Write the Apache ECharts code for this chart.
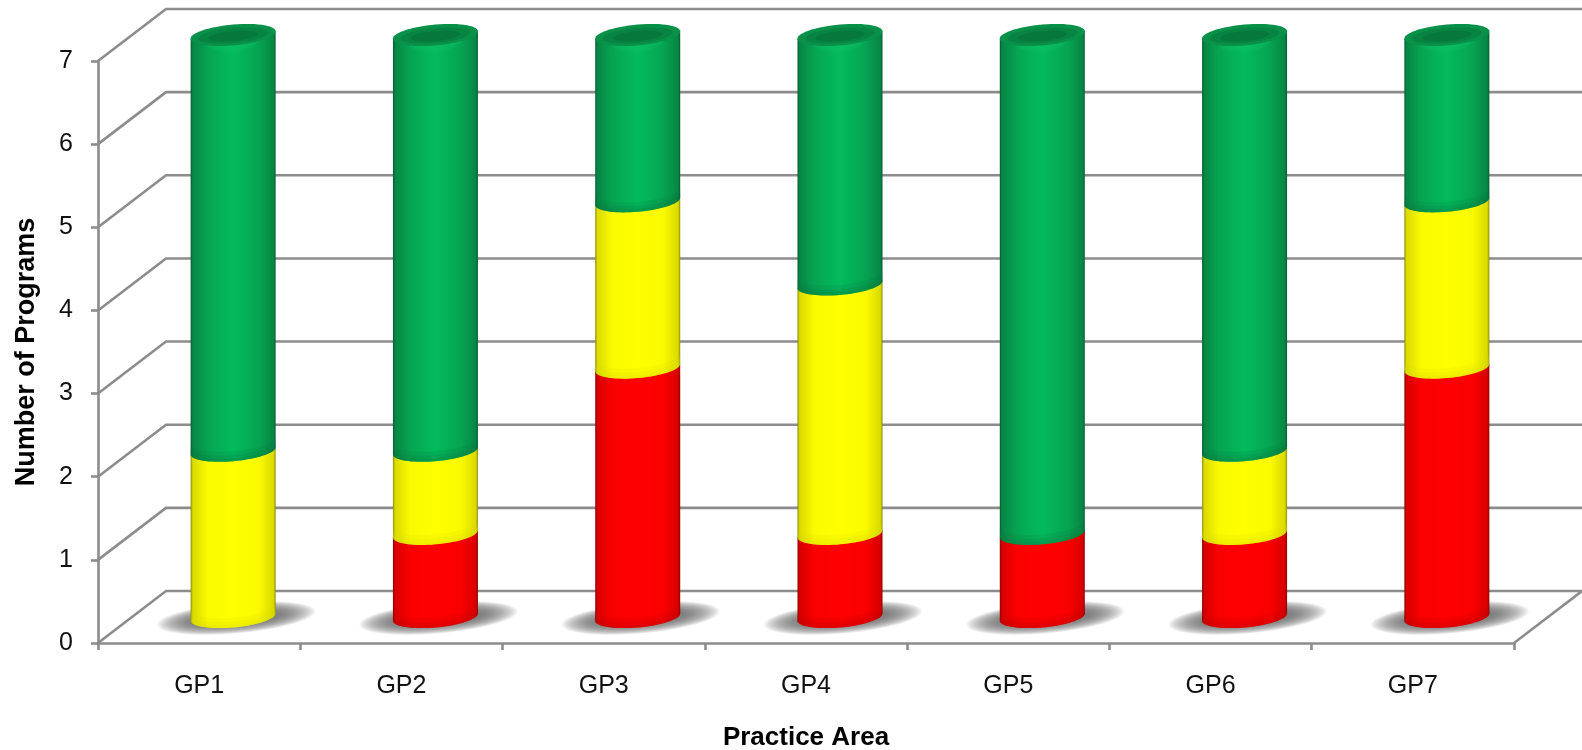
<!DOCTYPE html>
<html><head><meta charset="utf-8">
<style>html,body{margin:0;padding:0;background:#fff}#c{width:1582px;height:750px}</style>
<script src="https://cdn.jsdelivr.net/npm/echarts@6/dist/echarts.min.js"></script>
</head><body><div id="c"></div>
<script>
const categories = ['GP1','GP2','GP3','GP4','GP5','GP6','GP7'];
const redValues = [0,1,3,1,1,1,3];
const yellowValues = [2,1,2,3,0,1,2];
const greenValues = [5,5,2,3,6,5,2];
const yTicks = [0,1,2,3,4,5,6,7];

const FONT = '"Liberation Sans", Arial, sans-serif';
const LINE = '#8c8c8c';
const LW = 2.6;
const DX = 68, DY = 52;         // 3D depth of the floor
const HALF_W = 42.5, RY = 10.5, SHEAR = 0.085;

function grad(stops){
  return {type:'linear',x:0,y:0,x2:1,y2:0,colorStops:stops.map(s=>({offset:s[0],color:s[1]}))};
}
function shade(edge,near,mid,bright){
  return grad([[0,edge],[0.025,near],[0.2,mid],[0.5,bright],[0.8,mid],[0.975,near],[1,edge]]);
}
const fills = {
  red: shade('#8c0000','#d80000','#fa0000','#ff0000'),
  yellow: shade('#8c8c00','#dada00','#fbfb00','#ffff00'),
  green: shade('#045c34','#078644','#06a452','#03bb5d')
};
const rims = {red:'#b80000',yellow:'#d8d800',green:'#07783f'};

function ell(cx,cy,rx,ry,t0,t1,n){
  const p=[];
  for(let i=0;i<=n;i++){
    const t=t0+(t1-t0)*i/n;
    p.push([cx+rx*Math.cos(t), cy+ry*Math.sin(t)-SHEAR*rx*Math.cos(t)]);
  }
  return p;
}

function wallItem(params,api){
  const v=api.value(0);
  const a=api.coord([0,v]);
  const x0=a[0]-api.size([1,0])[0]/2;
  const last=api.coord([categories.length-1,v])[0]+api.size([1,0])[0]/2;
  const y=a[1];
  const children=[{type:'polyline',shape:{points:[[x0,y],[x0+DX,y-DY],[last+DX,y-DY]]},
    style:{fill:null,stroke:LINE,lineWidth:LW}}];
  if(v===0){
    children.push({type:'line',shape:{x1:last,y1:y,x2:last+DX,y2:y-DY},style:{stroke:LINE,lineWidth:LW}});
  }
  return {type:'group',children};
}
function shadowItem(params,api){
  const c=api.coord([api.value(0),0]);
  const cx=c[0]+DX/2+3, cy=c[1]-DY/2+1;
  const children=[];
  const layers=22;
  for(let k=0;k<layers;k++){
    const f=k/(layers-1);
    children.push({type:'polygon',shape:{points:ell(cx,cy,79-f*36,15.5-f*9,0,Math.PI*2,60)},
      style:{fill:'rgba(110,110,110,0.075)'}});
  }
  return {type:'group',children};
}
function barItem(color,isTopFn){
  return function(params,api){
    const i=api.value(0), s=api.value(1), e=api.value(2);
    if(e<=s) return null;
    const p0=api.coord([i,s]), p1=api.coord([i,e]);
    const cx=p0[0]+DX/2, yb=p0[1]-DY/2, yt=p1[1]-DY/2;
    const front=ell(cx,yb,HALF_W,RY,0,Math.PI,36);
    const right=[cx+HALF_W,yt-SHEAR*HALF_W], left=[cx-HALF_W,yt+SHEAR*HALF_W];
    const children=[{type:'polygon',shape:{points:[right].concat(front,[left])},style:{fill:fills[color]}}];
    // darker lip along the bottom curve, in soft steps
    [10,6,3].forEach(h=>{
      const lip=ell(cx,yb,HALF_W,RY,0,Math.PI,36).concat(ell(cx,yb-h,HALF_W,RY,Math.PI,0,36));
      children.push({type:'polygon',shape:{points:lip},style:{fill:rims[color],opacity:0.16}});
    });
    if(isTopFn(i,e)){
      // highlight on the body just under the cap
      [10,6].forEach(h=>{
        const band=ell(cx,yt,HALF_W*0.72,RY+h*0.7,0,Math.PI,30).concat(ell(cx,yt,HALF_W*0.72,RY-2,Math.PI,0,30));
        children.push({type:'polygon',shape:{points:band},style:{fill:'#12c56a',opacity:0.22}});
      });
      children.push({type:'polygon',shape:{points:ell(cx,yt,HALF_W,RY,0,Math.PI*2,60)},style:{fill:'#0a9149'}});
      children.push({type:'polygon',shape:{points:ell(cx,yt+0.5,HALF_W*0.82,RY*0.72,0,Math.PI*2,40)},style:{fill:'#088442'}});
      children.push({type:'polygon',shape:{points:ell(cx,yt+1,HALF_W*0.58,RY*0.48,0,Math.PI*2,40)},style:{fill:'#07783c'}});
    }
    return {type:'group',children};
  };
}

const redData=categories.map((c,i)=>[i,0,redValues[i]]);
const yellowData=categories.map((c,i)=>[i,redValues[i],redValues[i]+yellowValues[i]]);
const greenData=categories.map((c,i)=>[i,redValues[i]+yellowValues[i],redValues[i]+yellowValues[i]+greenValues[i]]);

const chart=echarts.init(document.getElementById('c'),null,{renderer:'canvas'});
const axisLine={show:true,lineStyle:{color:LINE,width:LW}};
chart.setOption({
  animation:false,
  backgroundColor:'#fff',
  grid:{left:98,right:68,top:61,bottom:107,containLabel:false,outerBoundsMode:'none'},
  xAxis:{type:'category',data:categories,boundaryGap:true,
    axisLine:Object.assign({onZero:false},axisLine),
    axisTick:{show:true,alignWithLabel:false,length:7,lineStyle:{color:LINE,width:LW}},
    axisLabel:{color:'#111',fontFamily:FONT,fontSize:25,margin:31},
    name:'Practice Area',nameLocation:'middle',nameGap:82,
    nameTextStyle:{color:'#000',fontFamily:FONT,fontSize:26,fontWeight:'bold'},
    splitLine:{show:false}},
  yAxis:{type:'value',min:0,max:7,interval:1,
    axisLine:axisLine,
    axisTick:{show:true,length:7,lineStyle:{color:LINE,width:LW}},
    axisLabel:{color:'#111',fontFamily:FONT,fontSize:25,margin:25,
      formatter:v=>yTicks.includes(v)?String(v):''},
    name:'Number of Programs',nameLocation:'middle',nameGap:58,
    nameTextStyle:{color:'#000',fontFamily:FONT,fontSize:27,fontWeight:'bold'},
    splitLine:{show:false}},
  series:[
    {type:'custom',name:'walls',silent:true,clip:false,z:1,renderItem:wallItem,encode:{y:0},data:yTicks.map(v=>[v])},
    {type:'custom',name:'shadow',silent:true,clip:false,z:2,renderItem:shadowItem,encode:{x:0},data:categories.map((c,i)=>[i])},
    {type:'custom',name:'Red',silent:true,clip:false,z:3,encode:{x:0,y:[1,2]},data:redData,
      renderItem:barItem('red',()=>false)},
    {type:'custom',name:'Yellow',silent:true,clip:false,z:4,encode:{x:0,y:[1,2]},data:yellowData,
      renderItem:barItem('yellow',()=>false)},
    {type:'custom',name:'Green',silent:true,clip:false,z:5,encode:{x:0,y:[1,2]},data:greenData,
      renderItem:barItem('green',()=>true)}
  ]
});
</script></body></html>
